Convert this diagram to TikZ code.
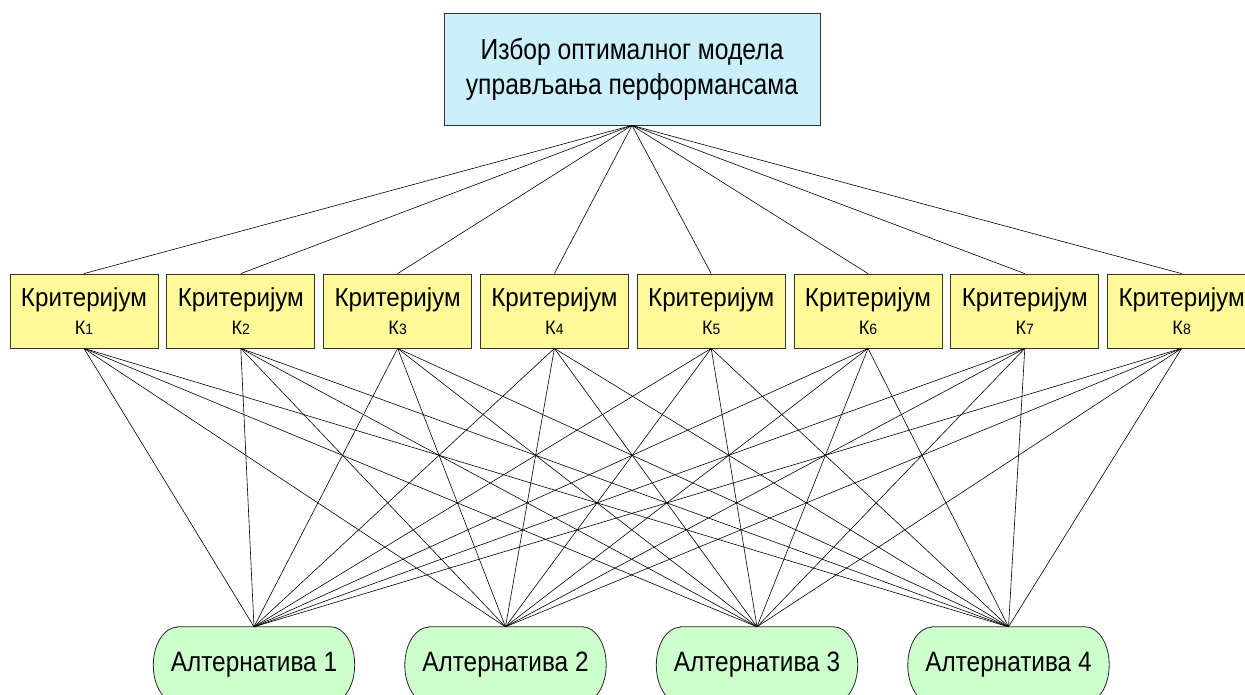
\documentclass[tikz,border=0pt]{standalone}
\usepackage{fontspec}
\usepackage{graphicx}
\usetikzlibrary{backgrounds}
\setmainfont{Liberation Sans}
% condensed lettering: squeeze the width only
\newcommand{\narrowtxt}[2]{\scalebox{#1}[1]{#2}}
\begin{document}
\begin{tikzpicture}[x=1pt,y=-1pt,
  goalbox/.style={draw=black!80, fill=cyan!20, line width=0.8pt,
    minimum width=376pt, minimum height=112pt, inner sep=0pt, align=center,
    font=\fontsize{29}{35}\selectfont},
  critbox/.style={draw=black!80, fill=yellow!40, line width=0.8pt,
    minimum width=148pt, minimum height=74pt, inner sep=0pt, align=center,
    font=\fontsize{26}{28.4}\selectfont},
  altbox/.style={minimum width=201pt, minimum height=76pt, inner sep=0pt,
    font=\fontsize{28}{32}\selectfont},
  altedge/.style={draw=black!85, fill=green!20, line width=0.8pt},
  link/.style={draw=black, line width=0.6pt}]
\lineskiplimit=-100pt\relax
\useasboundingbox (0,0) rectangle (1245,695);

% goal
\node[goalbox] (goal) at (632,69)
  {\narrowtxt{0.85}{Избор оптималног модела}\\\narrowtxt{0.85}{управљања перформансама}};

% criteria
\foreach \k in {1,...,8} {
  \node[critbox] (c\k) at ({84+156.8*(\k-1)},311)
    {\narrowtxt{0.93}{Критеријум}\\\narrowtxt{0.93}{{\fontsize{19.5}{20}\selectfont К}{\fontsize{15}{20}\selectfont\k}}};
}

% alternatives: text nodes with elliptic-cornered outlines behind them
\foreach \a in {1,...,4} {
  \node[altbox] (a\a) at ({254+251.5*(\a-1)},665) {\narrowtxt{0.87}{Алтернатива \a}};
}
\begin{scope}[on background layer]
\foreach \a in {1,...,4} {
  \path[altedge] ([xshift=24pt]a\a.north west) -- ([xshift=-24pt]a\a.north east)
    arc[start angle=90, end angle=-90, x radius=24pt, y radius=38pt]
    -- ([xshift=24pt]a\a.south west)
    arc[start angle=270, end angle=90, x radius=24pt, y radius=38pt] -- cycle;
}
\end{scope}

% links goal -> criteria
\foreach \k in {1,...,8} {
  \draw[link] (goal.south) -- (c\k.north);
}

% links criteria -> alternatives
\foreach \k in {1,...,8} {
  \foreach \a in {1,...,4} {
    \draw[link] (c\k.south) -- (a\a.north);
  }
}
\end{tikzpicture}
\end{document}
